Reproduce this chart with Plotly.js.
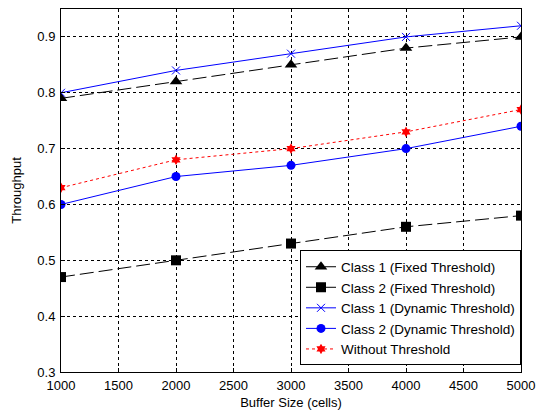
<!DOCTYPE html>
<html><head><meta charset="utf-8">
<script src="https://cdn.plot.ly/plotly-3.0.1.min.js"></script>
<style>html,body{margin:0;padding:0;background:#fff;}#chart{width:539px;height:412px;}</style>
</head><body><div id="chart"></div>
<script>
const bufferSize = [1000, 2000, 3000, 4000, 5000];
const class1Fixed = [0.79, 0.82, 0.85, 0.88, 0.90];
const class2Fixed = [0.47, 0.50, 0.53, 0.56, 0.58];
const class1Dynamic = [0.80, 0.84, 0.87, 0.90, 0.92];
const class2Dynamic = [0.60, 0.65, 0.67, 0.70, 0.74];
const withoutThreshold = [0.63, 0.68, 0.70, 0.73, 0.77];
const seriesNames = ['Class 1 (Fixed Threshold)', 'Class 2 (Fixed Threshold)', 'Class 1 (Dynamic Threshold)', 'Class 2 (Dynamic Threshold)', 'Without Threshold'];
const xTicks = [1000, 1500, 2000, 2500, 3000, 3500, 4000, 4500, 5000];
const yTicks = [0.3, 0.4, 0.5, 0.6, 0.7, 0.8, 0.9];

const traces = [
  {x: bufferSize, y: class1Fixed, name: seriesNames[0], mode: 'lines+markers',
   line: {color: '#000', width: 1, dash: '14px,5px'}, marker: {symbol: 'triangle-up', size: 11, color: '#000'}},
  {x: bufferSize, y: class2Fixed, name: seriesNames[1], mode: 'lines+markers',
   line: {color: '#000', width: 1, dash: '14px,5px'}, marker: {symbol: 'square', size: 10, color: '#000'}},
  {x: bufferSize, y: class1Dynamic, name: seriesNames[2], mode: 'lines+markers',
   line: {color: '#0000ff', width: 1}, marker: {symbol: 'x-thin', size: 8, line: {color: '#0000ff', width: 1}, color: '#0000ff'}},
  {x: bufferSize, y: class2Dynamic, name: seriesNames[3], mode: 'lines+markers',
   line: {color: '#0000ff', width: 1}, marker: {symbol: 'circle', size: 9, color: '#0000ff'}},
  {x: bufferSize, y: withoutThreshold, name: seriesNames[4], mode: 'lines+markers',
   line: {color: '#ff0000', width: 1, dash: '3px,3px'}, marker: {symbol: 'hexagram', size: 8, color: '#ff0000'}}
];

const fam = 'Liberation Sans, Arial, sans-serif';
const layout = {
  width: 539, height: 412,
  margin: {l: 61, r: 18, t: 9, b: 40},
  paper_bgcolor: '#fff', plot_bgcolor: '#fff',
  font: {family: fam, size: 13, color: '#000'},
  showlegend: true,
  xaxis: {
    range: [1000, 5000], tickvals: xTicks, ticktext: xTicks.map(String),
    showgrid: true, gridcolor: '#000', griddash: '3px,3px', gridwidth: 1,
    zeroline: false, showline: true, linecolor: '#000', linewidth: 1, mirror: true,
    ticks: 'inside', ticklen: 4, tickcolor: '#000', ticklabelstandoff: 1,
    title: {text: 'Buffer Size (cells)', font: {family: fam, size: 13, color: '#000'}, standoff: 6},
    tickfont: {family: fam, size: 13, color: '#000'}
  },
  yaxis: {
    range: [0.3, 0.95], tickvals: yTicks, ticktext: yTicks.map(v => v.toFixed(1)),
    showgrid: true, gridcolor: '#000', griddash: '3px,3px', gridwidth: 1,
    zeroline: false, showline: true, linecolor: '#000', linewidth: 1, mirror: true,
    ticks: 'inside', ticklen: 4, tickcolor: '#000', ticklabelstandoff: 2,
    title: {text: 'Throughput', font: {family: fam, size: 13, color: '#000'}, standoff: 12},
    tickfont: {family: fam, size: 13, color: '#000'}
  },
  legend: {
    x: 1, xanchor: 'right', y: 0.018, yanchor: 'bottom',
    bgcolor: '#fff', bordercolor: '#000', borderwidth: 1,
    font: {family: fam, size: 13.5, color: '#000'},
    tracegroupgap: 0, itemwidth: 30
  }
};
Plotly.newPlot('chart', traces, layout, {displayModeBar: false, staticPlot: true});
</script>
</body></html>
